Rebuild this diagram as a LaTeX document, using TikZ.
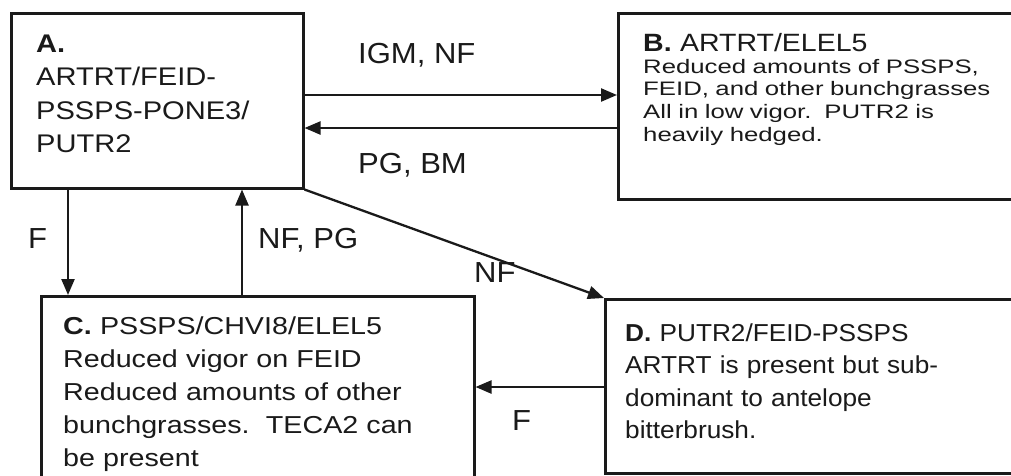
\documentclass[tikz,border=0pt]{standalone}
\usepackage{fontspec}
\setmainfont{Liberation Sans}
\newfontfamily\fA[FakeStretch=1.14]{Liberation Sans}
\newfontfamily\fB[FakeStretch=1.32]{Liberation Sans}
\newfontfamily\fC[FakeStretch=1.17]{Liberation Sans}
\newfontfamily\fD[FakeStretch=1.07]{Liberation Sans}
\newfontfamily\fL[FakeStretch=1.07]{Liberation Sans}
\usetikzlibrary{arrows.meta}
\definecolor{ink}{HTML}{1A1A1A}
\tikzset{
  statebox/.style={draw=ink, line width=2.5pt, rectangle, anchor=north west, inner sep=0pt},
  arr/.style={draw=ink, line width=2.3pt, -{Triangle[length=16pt,width=13pt]}},
  txt/.style={anchor=base west, align=left, text width=420pt, inner sep=0pt, text=ink},
  lbl/.style={anchor=base west, inner sep=0pt, text=ink, font=\fL\fontsize{29}{33}\selectfont},
}
\begin{document}
\begin{tikzpicture}[x=1pt,y=-1pt]
\useasboundingbox (0,0) rectangle (1011,475);
\fill[white] (0,0) rectangle (1011,475);
\clip (0,0) rectangle (1011,475);

% boxes
\node[statebox, minimum width=292pt, minimum height=175pt] (A) at (10,12) {};
\node[statebox, minimum width=420pt, minimum height=186pt] (B) at (617,12) {};
\node[statebox, minimum width=433pt, minimum height=220pt] (C) at (40,295) {};
\node[statebox, minimum width=430pt, minimum height=174pt] (D) at (604,298) {};

% box texts
\node[txt, font=\fA\fontsize{25.5}{33.5}\selectfont] (tA) at (36,52)
  {\textbf{A.}\\ARTRT/FEID-\\PSSPS-PONE3/\\PUTR2};
\node[txt, font=\fA\fontsize{25}{30}\selectfont] (tB1) at (643,51)
  {\textbf{B.} ARTRT/ELEL5};
\node[txt, font=\fB\fontsize{19.5}{22.7}\selectfont] (tB2) at (643,73)
  {Reduced amounts of PSSPS,\\FEID, and other bunchgrasses\\All in low vigor.\ \ PUTR2 is\\heavily hedged.};
\node[txt, font=\fC\fontsize{24.5}{33}\selectfont] (tC) at (63,334)
  {\textbf{C.} PSSPS/CHVI8/ELEL5\\Reduced vigor on FEID\\Reduced amounts of other\\bunchgrasses.\ \ TECA2 can\\be present};
\node[txt, font=\fD\fontsize{24.5}{32.5}\selectfont] (tD) at (625,341)
  {\textbf{D.} PUTR2/FEID-PSSPS\\ARTRT is present but sub-\\dominant to antelope\\bitterbrush.};

% connectors
\draw[arr] (A.east |- 0,95) -- (B.west |- 0,95);
\draw[arr] (B.west |- 0,128) -- (A.east |- 0,128);
\draw[arr] (A.south -| 68,0) -- (C.north -| 68,0);
\draw[arr] (C.north -| 242,0) -- (A.south -| 242,0);
\draw[arr] (A.south east) -- (D.north west);
\draw[arr] (D.west |- 0,387) -- (C.east |- 0,387);

% connector labels
\node[lbl] (l1) at (358,63) {IGM, NF};
\node[lbl] (l2) at (358,173) {PG, BM};
\node[lbl] (l3) at (28,248) {F};
\node[lbl] (l4) at (258,248) {NF, PG};
\node[lbl] (l5) at (474,282) {NF};
\node[lbl] (l6) at (512,430) {F};
\end{tikzpicture}
\end{document}
